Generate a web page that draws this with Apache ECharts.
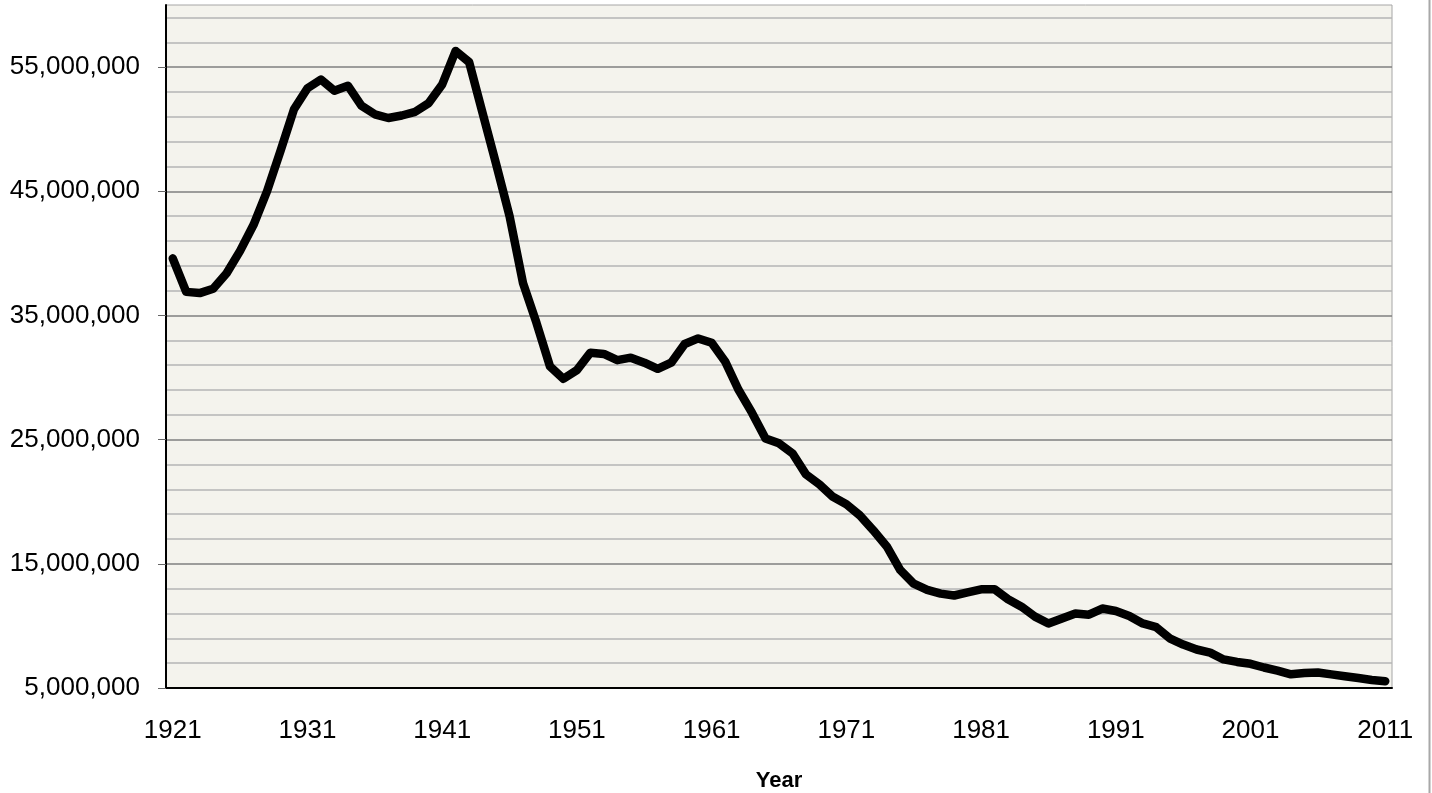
<!DOCTYPE html>
<html lang="en">
<head>
    <meta charset="UTF-8">
    <title>Year</title>
    <script src="https://cdn.jsdelivr.net/npm/echarts@6/dist/echarts.min.js"></script>
    <style>
        body {
            margin: 0;
            padding: 0;
            background: #fff;
            overflow: hidden;
        }
        #chart {
            width: 1432px;
            height: 793px;
        }
    </style>
</head>
<body>
<div id="chart"></div>

<script>
    // years 1921 .. 2011
    const years = [];
    for (let y = 1921; y <= 2011; y++) years.push(String(y));

    // values
    const values = [
        39600000, 36900000, 36800000, 37150000, 38400000, 40200000, 42300000, 45000000, 48250000, 51600000,
        53300000, 54000000, 53100000, 53500000, 51900000, 51200000, 50900000, 51100000, 51400000, 52100000,
        53600000, 56300000, 55400000, 51300000, 47200000, 43000000, 37600000, 34400000, 30900000, 29900000,
        30600000, 32000000, 31900000, 31400000, 31600000, 31200000, 30700000, 31200000, 32700000, 33150000,
        32800000, 31300000, 29000000, 27150000, 25100000, 24700000, 23900000, 22200000, 21400000, 20400000,
        19800000, 18900000, 17700000, 16400000, 14500000, 13400000, 12900000, 12600000, 12450000, 12700000,
        12950000, 12950000, 12150000, 11550000, 10750000, 10200000, 10600000, 11000000, 10900000, 11400000,
        11200000, 10800000, 10200000, 9900000, 9000000, 8500000, 8100000, 7850000, 7300000, 7100000,
        6950000, 6650000, 6400000, 6100000, 6200000, 6250000, 6100000, 5950000, 5800000, 5650000,
        5550000
    ];

    // labelled y values
    const yLabels = [5000000, 15000000, 25000000, 35000000, 45000000, 55000000];

    const font = '"Liberation Sans", Arial, sans-serif';
    const none = 'rgba(0,0,0,0)';
    const chart = echarts.init(document.getElementById('chart'));

    chart.setOption({
        animation: false,
        grid: {
            left: 166, right: 40, top: 5, bottom: 105,
            outerBoundsMode: 'none',
            show: true,
            backgroundColor: '#f4f3ed',
            borderColor: '#a6a6a6',
            borderWidth: 1
        },
        graphic: [{
            type: 'line',
            shape: { x1: 1429.5, y1: 0, x2: 1429.5, y2: 793 },
            style: { stroke: '#a8a8a8', lineWidth: 2 }
        }],
        xAxis: {
            type: 'category',
            data: years,
            boundaryGap: true,
            name: 'Year',
            nameLocation: 'middle',
            nameGap: 82,
            nameTextStyle: { fontFamily: font, fontSize: 22, fontWeight: 'bold', color: '#000' },
            axisLine: { lineStyle: { color: '#000', width: 2 } },
            axisTick: { interval: 0, length: 9, lineStyle: { color: '#555', width: 1 } },
            axisLabel: { interval: 9, margin: 30, fontFamily: font, fontSize: 26, color: '#000' },
            splitLine: { show: false }
        },
        yAxis: [{
            // grid lines every 2M, darker every 10M
            type: 'value',
            min: 5000000,
            max: 60000000,
            interval: 1000000,
            axisLine: { show: true, lineStyle: { color: '#000', width: 2 } },
            axisTick: { show: false },
            axisLabel: { show: false },
            splitLine: {
                show: true,
                lineStyle: {
                    width: 1.5,
                    color: ['#7f7f7f', none, '#b4b4b4', none, '#b4b4b4',
                            none, '#b4b4b4', none, '#b4b4b4', none]
                }
            }
        }, {
            // ticks and labels
            type: 'value',
            position: 'left',
            min: 5000000,
            max: 60000000,
            interval: 1000000,
            axisLine: { show: false },
            axisTick: { show: true, customValues: yLabels, length: 8, lineStyle: { color: '#666' } },
            axisLabel: {
                customValues: yLabels,
                margin: 26,
                fontFamily: font,
                fontSize: 26,
                color: '#000',
                formatter: v => v.toLocaleString('en-US')
            },
            splitLine: { show: false }
        }],
        series: [{
            type: 'line',
            data: values,
            symbol: 'none',
            lineStyle: { color: '#000', width: 8.5, cap: 'round', join: 'round' }
        }]
    });
</script>
</body>
</html>
